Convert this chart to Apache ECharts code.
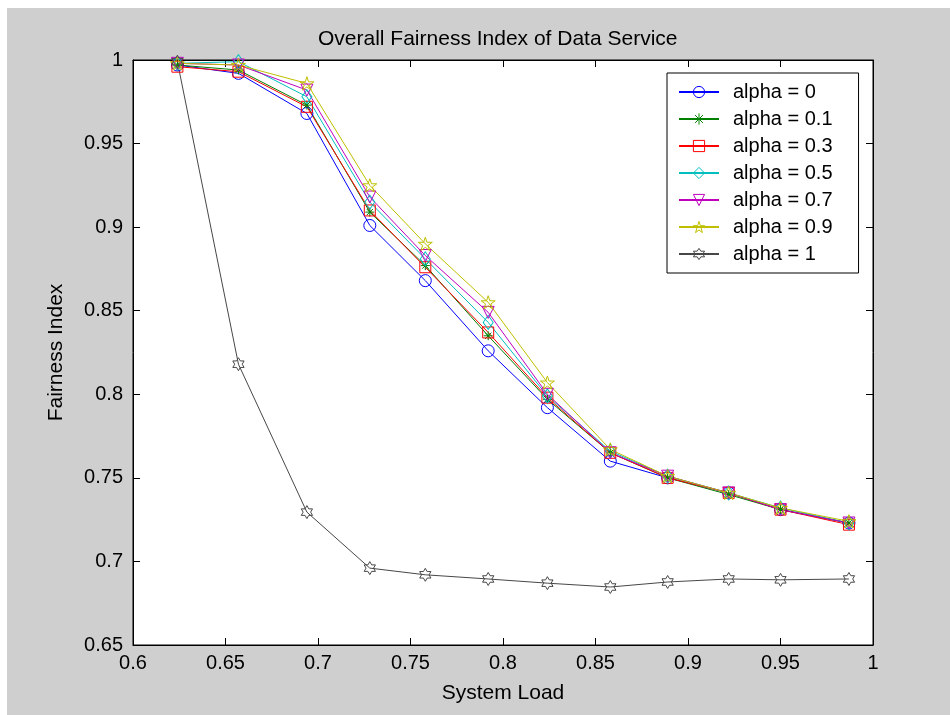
<!DOCTYPE html>
<html>
<head>
<meta charset="utf-8">
<script src="https://cdn.jsdelivr.net/npm/echarts@6.0.0/dist/echarts.min.js"></script>
<style>
  html, body { margin: 0; padding: 0; background: #fff; }
  #chart {
    width: 950px; height: 715px;
    background-color: #fff;
    background-image: linear-gradient(#cfcfcf, #cfcfcf);
    background-position: 7px 8px;
    background-size: 943px 707px;
    background-repeat: no-repeat;
  }
</style>
</head>
<body>
<div id="chart"></div>
<script>
// system load on the x axis
const loads = [0.624, 0.657, 0.694, 0.728, 0.758, 0.792, 0.824, 0.858, 0.889, 0.922, 0.950, 0.987];

// fairness index per alpha
const alpha0  = [0.997, 0.992, 0.968, 0.901, 0.868, 0.826, 0.792, 0.760, 0.750, 0.741, 0.731, 0.723];
const alpha01 = [0.997, 0.994, 0.973, 0.909, 0.877, 0.835, 0.797, 0.765, 0.750, 0.740, 0.731, 0.723];
const alpha03 = [0.996, 0.993, 0.972, 0.910, 0.876, 0.837, 0.798, 0.765, 0.750, 0.741, 0.731, 0.722];
const alpha05 = [0.998, 0.999, 0.978, 0.915, 0.881, 0.843, 0.799, 0.766, 0.751, 0.741, 0.732, 0.723];
const alpha07 = [0.998, 0.997, 0.982, 0.918, 0.883, 0.849, 0.800, 0.765, 0.751, 0.741, 0.731, 0.723];
const alpha09 = [0.998, 0.997, 0.986, 0.925, 0.890, 0.855, 0.807, 0.767, 0.751, 0.741, 0.732, 0.724];
const alpha1  = [0.999, 0.818, 0.7295, 0.696, 0.692, 0.6895, 0.687, 0.6847, 0.6877, 0.6895, 0.689, 0.6895];

const names = ["alpha = 0", "alpha = 0.1", "alpha = 0.3", "alpha = 0.5", "alpha = 0.7", "alpha = 0.9", "alpha = 1"];
const values = [alpha0, alpha01, alpha03, alpha05, alpha07, alpha09, alpha1];

// matlab-ish marker shapes
const ASTERISK = "path://M0,-10L0,10M-10,0L10,0M-7,-7L7,7M-7,7L7,-7";
const PENTAGRAM = "path://M0,-10L2.245,-3.09L9.51,-3.09L3.633,1.18L5.878,8.09L0,3.82L-5.878,8.09L-3.633,1.18L-9.51,-3.09L-2.245,-3.09Z";
const HEXAGRAM = "path://M0,-10L2.887,-5L8.66,-5L5.77,0L8.66,5L2.887,5L0,10L-2.887,5L-8.66,5L-5.77,0L-8.66,-5L-2.887,-5Z";

const styles = [
  { color: "#0000ff", symbol: "circle", size: 12 },
  { color: "#008000", symbol: ASTERISK, size: 9 },
  { color: "#ff0000", symbol: "rect", size: 11 },
  { color: "#00bfbf", symbol: "diamond", size: [10, 14] },
  { color: "#bf00bf", symbol: "triangle", size: 12, rotate: 180 },
  { color: "#bfbf00", symbol: PENTAGRAM, size: 14 },
  { color: "#474747", symbol: HEXAGRAM, size: 13 },
];

const FONT = "'Liberation Sans', Arial, sans-serif";

const chart = echarts.init(document.getElementById("chart"));

const series = names.map((name, i) => ({
  name: name,
  type: "line",
  data: loads.map((x, j) => [x, values[i][j]]),
  symbol: styles[i].symbol,
  symbolSize: styles[i].size,
  symbolRotate: styles[i].rotate || 0,
  symbolKeepAspect: true,
  showAllSymbol: true,
  animation: false,
  lineStyle: { color: styles[i].color, width: 1 },
  itemStyle: { color: "rgba(0,0,0,0)", borderColor: styles[i].color, borderWidth: 1 },
  emphasis: { disabled: true },
}));

// legend entries keep hollow markers
const legendData = names.map((name, i) => ({
  name: name,
  itemStyle: { color: "rgba(0,0,0,0)", borderColor: styles[i].color, borderWidth: 1 }
}));

chart.setOption({
  backgroundColor: "transparent",
  textStyle: { fontFamily: FONT },
  title: {
    text: "Overall Fairness Index of Data Service",
    left: 313,
    top: 24,
    textStyle: { fontFamily: FONT, fontSize: 21, fontWeight: "normal", color: "#000" }
  },
  legend: {
    data: legendData,
    orient: "vertical",
    left: 667,
    top: 73,
    padding: [9, 26, 9, 11],
    itemWidth: 40,
    itemHeight: 14,
    itemGap: 7,
    backgroundColor: "#fff",
    borderColor: "#000",
    borderWidth: 1,
    borderRadius: 0,
    selectedMode: false,
    textStyle: { fontFamily: FONT, fontSize: 20, color: "#000", lineHeight: 20, padding: [0, 0, 0, 9] }
  },
  grid: {
    left: 133,
    right: 77,
    top: 60,
    bottom: 70,
    show: true,
    backgroundColor: "#fff",
    borderColor: "#000",
    borderWidth: 1
  },
  xAxis: [
    {
      type: "value",
      min: 0.6,
      max: 1,
      interval: 0.05,
      name: "System Load",
      nameLocation: "middle",
      nameGap: 38,
      nameTextStyle: { fontFamily: FONT, fontSize: 21, color: "#000" },
      axisLine: { onZero: false, lineStyle: { color: "#000" } },
      axisTick: { inside: true, length: 7, lineStyle: { color: "#000" } },
      axisLabel: { margin: 8, fontFamily: FONT, fontSize: 20, color: "#000" },
      splitLine: { show: false }
    },
    {
      type: "value",
      position: "top",
      min: 0.6,
      max: 1,
      interval: 0.05,
      axisLine: { onZero: false, lineStyle: { color: "#000" } },
      axisTick: { inside: true, length: 7, lineStyle: { color: "#000" } },
      axisLabel: { show: false },
      splitLine: { show: false }
    }
  ],
  yAxis: [
    {
      type: "value",
      min: 0.65,
      max: 1,
      interval: 0.05,
      name: "Fairness Index",
      nameLocation: "middle",
      nameGap: 66,
      nameTextStyle: { fontFamily: FONT, fontSize: 21, color: "#000" },
      axisLine: { show: true, onZero: false, lineStyle: { color: "#000" } },
      axisTick: { show: true, inside: true, length: 7, lineStyle: { color: "#000" } },
      axisLabel: { margin: 10, fontFamily: FONT, fontSize: 20, color: "#000" },
      splitLine: { show: false }
    },
    {
      type: "value",
      position: "right",
      min: 0.65,
      max: 1,
      interval: 0.05,
      axisLine: { show: true, onZero: false, lineStyle: { color: "#000" } },
      axisTick: { show: true, inside: true, length: 7, lineStyle: { color: "#000" } },
      axisLabel: { show: false },
      splitLine: { show: false }
    }
  ],
  series: series
});
</script>
</body>
</html>
